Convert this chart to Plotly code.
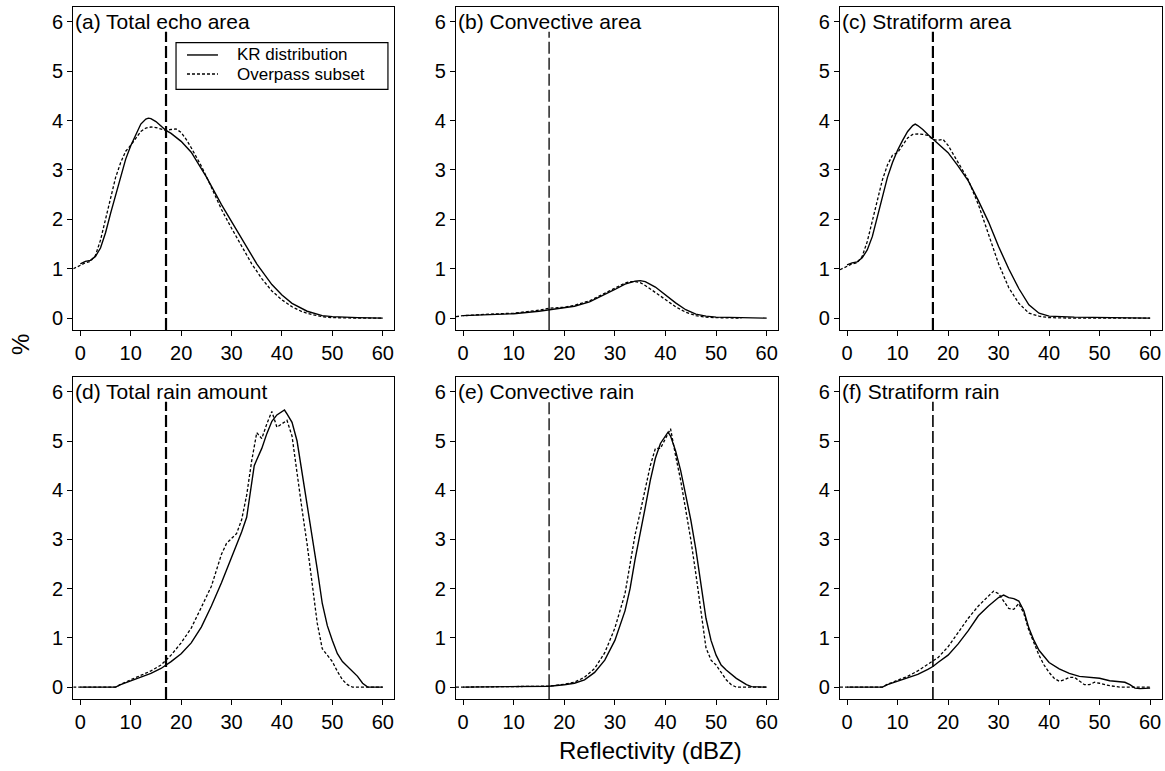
import numpy as np
import plotly.graph_objects as go

THRESHOLD_DBZ = 17  # reflectivity threshold marked in every panel

FONT = "Liberation Sans, Arial, Helvetica, sans-serif"

panel_titles = [
    "(a) Total echo area", "(b) Convective area", "(c) Stratiform area",
    "(d) Total rain amount", "(e) Convective rain", "(f) Stratiform rain",
]
series_names = ["KR distribution", "Overpass subset"]

x_ticks = [0, 10, 20, 30, 40, 50, 60]
y_ticks = [0, 1, 2, 3, 4, 5, 6]

# ---- (a) total echo area ----
a_kr_x = [0, 1, 2, 3, 4, 5, 6, 7, 8, 9, 10, 11, 12, 13, 13.5, 14, 15, 16, 17, 18,
          20, 22, 25, 28, 30, 32, 35, 38, 40, 42, 45, 48, 50, 55, 60]
a_kr_y = [1.10, 1.15, 1.17, 1.25, 1.42, 1.73, 2.12, 2.50, 2.88, 3.22, 3.49, 3.72,
          3.93, 4.03, 4.05, 4.04, 3.98, 3.89, 3.80, 3.74, 3.58, 3.36, 2.86, 2.30,
          1.96, 1.62, 1.10, 0.68, 0.47, 0.30, 0.14, 0.05, 0.03, 0.01, 0.0]
a_ov_x = [-1.4, 0, 1, 2, 3, 4, 5, 6, 7, 8, 9, 10, 11, 12, 13, 14, 15, 16, 17, 18,
          19, 20, 21, 22, 24, 26, 28, 30, 32, 34, 36, 38, 40, 42, 44, 46, 48, 50, 55, 60]
a_ov_y = [1.0, 1.07, 1.12, 1.15, 1.27, 1.58, 2.0, 2.45, 2.85, 3.15, 3.38, 3.5, 3.65,
          3.78, 3.85, 3.87, 3.86, 3.83, 3.80, 3.82, 3.83, 3.76, 3.62, 3.45, 3.08,
          2.65, 2.2, 1.82, 1.45, 1.1, 0.8, 0.55, 0.37, 0.23, 0.13, 0.07, 0.03, 0.01,
          0.0, 0.0]

# ---- (b) convective area ----
b_kr_x = [0, 5, 10, 15, 17, 20, 22, 25, 28, 30, 32, 34, 35, 36, 38, 40, 42, 44, 46,
          48, 50, 55, 60]
b_kr_y = [0.05, 0.07, 0.09, 0.14, 0.17, 0.20, 0.24, 0.33, 0.47, 0.58, 0.69, 0.75,
          0.76, 0.74, 0.63, 0.47, 0.31, 0.17, 0.08, 0.04, 0.02, 0.01, 0.0]
b_ov_x = [-1.4, 0, 5, 10, 15, 17, 20, 22, 25, 28, 30, 32, 33, 34, 35, 36, 38, 40, 42,
          44, 46, 48, 50, 55]
b_ov_y = [0.03, 0.05, 0.08, 0.10, 0.16, 0.20, 0.22, 0.26, 0.35, 0.50, 0.61, 0.71,
          0.74, 0.74, 0.72, 0.66, 0.52, 0.37, 0.23, 0.12, 0.05, 0.02, 0.01, 0.0]

# ---- (c) stratiform area ----
c_kr_x = [0, 1, 2, 3, 4, 5, 6, 7, 8, 9, 10, 11, 12, 13, 13.5, 14, 15, 16, 17, 18,
          20, 22, 24, 26, 28, 30, 32, 34, 36, 38, 40, 45, 50, 60]
c_kr_y = [1.08, 1.12, 1.14, 1.22, 1.38, 1.65, 2.05, 2.45, 2.85, 3.15, 3.40, 3.60,
          3.78, 3.90, 3.93, 3.90, 3.82, 3.72, 3.63, 3.55, 3.35, 3.08, 2.78, 2.38,
          1.95, 1.45, 1.0, 0.6, 0.27, 0.10, 0.04, 0.02, 0.01, 0.0]
c_ov_x = [-1.4, 0, 1, 2, 3, 4, 5, 6, 7, 8, 9, 10, 11, 12, 13, 14, 15, 16, 17, 18,
          19, 20, 22, 24, 26, 28, 30, 32, 34, 36, 38, 40, 45, 60]
c_ov_y = [0.98, 1.05, 1.10, 1.12, 1.25, 1.55, 1.95, 2.40, 2.80, 3.10, 3.30, 3.35,
          3.50, 3.65, 3.72, 3.73, 3.72, 3.70, 3.62, 3.60, 3.62, 3.50, 3.15, 2.80,
          2.30, 1.70, 1.10, 0.62, 0.30, 0.10, 0.04, 0.01, 0.0, 0.0]

# ---- (d) total rain amount ----
d_kr_x = [0, 7, 8, 10, 12, 14, 16, 17, 18, 20, 22, 24, 26, 28, 30, 32, 33, 34, 34.5,
          35, 36, 37, 38, 39, 40, 40.5, 41, 42, 43, 44, 45, 46, 47, 48, 49, 50, 51,
          52, 53, 54, 55, 56, 57, 60]
d_kr_y = [0.0, 0.0, 0.05, 0.13, 0.20, 0.28, 0.38, 0.45, 0.52, 0.68, 0.90, 1.22,
          1.65, 2.12, 2.62, 3.15, 3.45, 4.20, 4.50, 4.62, 4.85, 5.15, 5.40, 5.53,
          5.60, 5.63, 5.55, 5.38, 5.00, 4.35, 3.70, 3.10, 2.40, 1.70, 1.25, 0.95,
          0.68, 0.52, 0.42, 0.32, 0.22, 0.08, 0.0, 0.0]
d_ov_x = [-1.4, 7, 8, 10, 12, 14, 16, 17, 18, 20, 22, 24, 26, 28, 29, 30, 31, 32, 33,
          34, 35, 36, 37, 38, 39, 40, 41, 42, 43, 44, 45, 46, 47, 48, 49, 50, 51, 52,
          53, 54, 60]
d_ov_y = [0.0, 0.0, 0.06, 0.15, 0.24, 0.33, 0.45, 0.55, 0.65, 0.90, 1.20, 1.62,
          2.05, 2.70, 2.92, 3.02, 3.12, 3.40, 3.90, 4.60, 5.17, 5.05, 5.35, 5.60,
          5.28, 5.35, 5.42, 5.10, 4.30, 3.60, 2.90, 2.10, 1.30, 0.78, 0.64, 0.52,
          0.32, 0.15, 0.05, 0.0, 0.0]

# ---- (e) convective rain ----
e_kr_x = [0, 14, 17, 20, 22, 24, 26, 28, 30, 32, 33, 34, 35, 36, 37, 38, 39, 40,
          40.5, 41, 42, 43, 44, 45, 46, 47, 48, 49, 50, 51, 52, 54, 56, 57, 60]
e_kr_y = [0.0, 0.01, 0.02, 0.05, 0.08, 0.15, 0.30, 0.55, 0.95, 1.55, 2.0, 2.6, 3.1,
          3.65, 4.2, 4.65, 4.95, 5.10, 5.18, 5.10, 4.80, 4.40, 3.90, 3.40, 2.80,
          2.10, 1.40, 0.95, 0.65, 0.45, 0.35, 0.18, 0.05, 0.01, 0.0]
e_ov_x = [-1.4, 17, 20, 22, 24, 26, 28, 30, 32, 33, 34, 35, 36, 37, 38, 39, 40, 41,
          42, 43, 44, 45, 46, 47, 48, 49, 50, 51, 52, 53, 54, 60]
e_ov_y = [0.0, 0.02, 0.06, 0.10, 0.20, 0.38, 0.70, 1.20, 1.90, 2.50, 3.10, 3.55,
          4.00, 4.50, 4.85, 4.85, 5.05, 5.25, 4.70, 4.20, 3.60, 3.00, 2.30, 1.50,
          0.80, 0.55, 0.45, 0.30, 0.15, 0.05, 0.0, 0.0]

# ---- (f) stratiform rain ----
f_kr_x = [0, 7, 8, 10, 12, 14, 16, 17, 18, 20, 22, 24, 26, 28, 30, 31, 32, 33, 34,
          35, 36, 37, 38, 40, 42, 44, 46, 48, 50, 52, 54, 55, 56, 57, 58, 60]
f_kr_y = [0.0, 0.0, 0.05, 0.12, 0.18, 0.26, 0.36, 0.42, 0.50, 0.65, 0.88, 1.15,
          1.45, 1.65, 1.82, 1.87, 1.82, 1.80, 1.75, 1.55, 1.20, 0.95, 0.75, 0.50,
          0.37, 0.28, 0.22, 0.20, 0.18, 0.13, 0.12, 0.10, 0.05, -0.02, -0.03, -0.02]
f_ov_x = [-1.4, 7, 8, 10, 12, 14, 16, 17, 18, 20, 22, 24, 26, 28, 29, 30, 31, 32, 33,
          34, 35, 36, 37, 38, 39, 40, 41, 42, 43, 44, 45, 46, 47, 48, 49, 50, 52, 54,
          58, 60]
f_ov_y = [0.0, 0.0, 0.06, 0.14, 0.22, 0.33, 0.46, 0.52, 0.60, 0.82, 1.10, 1.40,
          1.65, 1.85, 1.95, 1.90, 1.75, 1.60, 1.58, 1.70, 1.50, 1.15, 0.90, 0.65,
          0.45, 0.30, 0.18, 0.12, 0.15, 0.20, 0.20, 0.12, 0.05, 0.05, 0.10, 0.08,
          0.03, 0.0, 0.0, 0.0]

panels = [
    (a_kr_x, a_kr_y, a_ov_x, a_ov_y),
    (b_kr_x, b_kr_y, b_ov_x, b_ov_y),
    (c_kr_x, c_kr_y, c_ov_x, c_ov_y),
    (d_kr_x, d_kr_y, d_ov_x, d_ov_y),
    (e_kr_x, e_kr_y, e_ov_x, e_ov_y),
    (f_kr_x, f_kr_y, f_ov_x, f_ov_y),
]

KR_LINE = dict(color="black", width=1.4)
OV_LINE = dict(color="black", width=1.3, dash="3px,2px")

# threshold line style per panel: (width, solid below the KR curve?)
threshold_style = [(2.2, False), (1.3, True), (2.2, False),
                   (2.2, False), (1.3, True), (1.6, False)]

col_domains = [(0.0629, 0.3385), (0.3914, 0.6681), (0.7210, 0.9972)]
row_domains = [(0.5720, 0.9909), (0.0934, 0.5110)]
X_RANGE = [-1.4, 62.3]
Y_RANGE = [-0.24, 6.3]
THRESH_TOP = 5.8

fig = go.Figure()
shapes = []
annotations = []

for i, (kx, ky, ox, oy) in enumerate(panels):
    r, c = divmod(i, 3)
    sfx = "" if i == 0 else str(i + 1)
    xa, ya = "x" + sfx, "y" + sfx

    fig.add_trace(go.Scatter(x=kx, y=ky, xaxis=xa, yaxis=ya, mode="lines",
                             line=KR_LINE, name=series_names[0], showlegend=False))
    fig.add_trace(go.Scatter(x=ox, y=oy, xaxis=xa, yaxis=ya, mode="lines",
                             line=OV_LINE, name=series_names[1], showlegend=False))

    axis_common = dict(
        showline=True, mirror=True, linecolor="black", linewidth=1.3,
        ticks="outside", ticklen=5, tickwidth=1.2, tickcolor="black",
        showgrid=False, zeroline=False,
        tickfont=dict(family=FONT, size=20, color="black"),
    )
    fig.layout["xaxis" + sfx] = dict(domain=col_domains[c], anchor=ya,
                                     range=X_RANGE, tickvals=x_ticks, **axis_common)
    fig.layout["yaxis" + sfx] = dict(domain=row_domains[r], anchor=xa,
                                     range=Y_RANGE, tickvals=y_ticks, **axis_common)

    width, solid_base = threshold_style[i]
    y_curve = float(np.interp(THRESHOLD_DBZ, kx, ky))
    dash_start = y_curve if solid_base else Y_RANGE[0]
    shapes.append(dict(type="line", xref=xa, yref=ya,
                       x0=THRESHOLD_DBZ, x1=THRESHOLD_DBZ,
                       y0=dash_start, y1=THRESH_TOP,
                       line=dict(color="black", width=width, dash="12px,4px")))
    if solid_base:
        shapes.append(dict(type="line", xref=xa, yref=ya,
                           x0=THRESHOLD_DBZ, x1=THRESHOLD_DBZ,
                           y0=Y_RANGE[0], y1=y_curve,
                           line=dict(color="black", width=width)))

    annotations.append(dict(
        text=panel_titles[i], xref=xa, yref=ya, x=X_RANGE[0], y=6,
        xanchor="left", yanchor="middle", showarrow=False,
        font=dict(family=FONT, size=21, color="black"),
    ))

# legend box inside panel (a), drawn in paper coordinates
LEG_X0, LEG_X1, LEG_Y0, LEG_Y1 = 0.1511, 0.3330, 0.8842, 0.9446
LEG_LINE_X0, LEG_LINE_X1, LEG_TEXT_X = 0.1605, 0.1871, 0.2017
leg_rows = [(0.9287, KR_LINE), (0.9040, OV_LINE)]
shapes.append(dict(type="rect", xref="paper", yref="paper",
                   x0=LEG_X0, x1=LEG_X1, y0=LEG_Y0, y1=LEG_Y1,
                   line=dict(color="black", width=1.2), fillcolor="white",
                   layer="above"))
for (ly, style), label in zip(leg_rows, series_names):
    shapes.append(dict(type="line", xref="paper", yref="paper",
                       x0=LEG_LINE_X0, x1=LEG_LINE_X1, y0=ly, y1=ly,
                       line=style, layer="above"))
    annotations.append(dict(
        text=label, xref="paper", yref="paper", x=LEG_TEXT_X, y=ly,
        xanchor="left", yanchor="middle", showarrow=False,
        font=dict(family=FONT, size=17, color="black"),
    ))

annotations.append(dict(
    text="%", xref="paper", yref="paper", x=0.0172, y=0.5525,
    textangle=-90, showarrow=False, xanchor="center", yanchor="middle",
    font=dict(family=FONT, size=24, color="black"),
))
annotations.append(dict(
    text="Reflectivity (dBZ)", xref="paper", yref="paper", x=0.558, y=0.026,
    showarrow=False, xanchor="center", yanchor="middle",
    font=dict(family=FONT, size=24, color="black"),
))

fig.update_layout(
    width=1165, height=771,
    margin=dict(l=0, r=0, t=0, b=0),
    paper_bgcolor="white", plot_bgcolor="white",
    shapes=shapes, annotations=annotations,
    showlegend=False,
)

fig.write_html("out.html")
